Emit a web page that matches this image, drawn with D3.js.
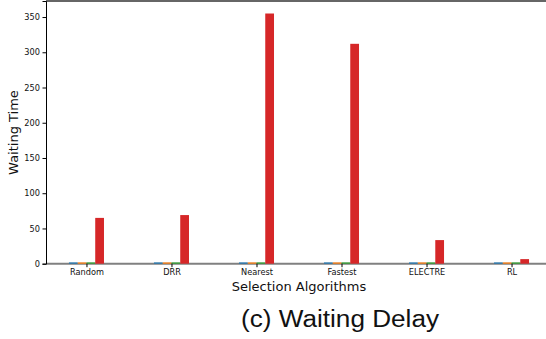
<!DOCTYPE html>
<html>
<head>
<meta charset="utf-8">
<script src="https://cdn.jsdelivr.net/npm/d3@7/dist/d3.min.js"></script>
<style>
  html, body { margin: 0; padding: 0; background: #fff; }
  svg { display: block; }
</style>
</head>
<body>
<svg id="chart" width="546" height="339"></svg>
<script>
// Waiting time per selection algorithm, four series per group
const categories = ["Random", "DRR", "Nearest", "Fastest", "ELECTRE", "RL"];
const seriesNames = ["s1", "s2", "s3", "s4"];
const seriesColors = ["#1f77b4", "#ff7f0e", "#2ca02c", "#d62728"];
const s1 = [1.8, 1.8, 1.8, 1.8, 1.8, 1.8];
const s2 = [1.8, 1.8, 1.8, 1.8, 1.8, 1.8];
const s3 = [1.8, 1.8, 1.8, 1.8, 1.8, 1.8];
const s4 = [65, 69, 355, 312, 33.5, 6.5];
const yTicks = [0, 50, 100, 150, 200, 250, 300, 350];
const seriesValues = [s1, s2, s3, s4];

const svg = d3.select("#chart");
const plot = { left: 46, right: 552, top: 1, bottom: 263.7 };

const x = d3.scaleLinear().domain([-0.476, 5.476]).range([plot.left, plot.right]);
const y = d3.scaleLinear().domain([0, 355 * 1.05]).range([plot.bottom, plot.top]);
const offset = d3.scaleBand().domain(seriesNames).range([-0.206, 0.206]);

const font = "DejaVu Sans, sans-serif";

// bottom and top frame lines
svg.append("line")
  .attr("x1", plot.left).attr("x2", plot.right)
  .attr("y1", plot.bottom).attr("y2", plot.bottom)
  .attr("stroke", "#808080").attr("stroke-width", 2);
svg.append("line")
  .attr("x1", plot.left).attr("x2", plot.right)
  .attr("y1", plot.top).attr("y2", plot.top)
  .attr("stroke", "#666").attr("stroke-width", 2);

// bars
seriesNames.forEach((name, si) => {
  svg.append("g")
    .selectAll("rect")
    .data(seriesValues[si])
    .join("rect")
    .attr("x", (d, i) => x(i + offset(name)))
    .attr("width", (d, i) => x(i + offset(name) + offset.bandwidth()) - x(i + offset(name)))
    .attr("y", d => y(d))
    .attr("height", d => y(0) - y(d))
    .attr("fill", seriesColors[si]);
});

// y axis
const yAxis = svg.append("g")
  .attr("transform", `translate(${plot.left},0)`)
  .call(d3.axisLeft(y).tickValues(yTicks).tickSize(3.5).tickPadding(2.5));
yAxis.select(".domain").attr("stroke", "#000").attr("stroke-width", 1);
yAxis.selectAll("text").attr("font-family", font).attr("font-size", 8.2).attr("fill", "#111");

// x axis
const xAxis = svg.append("g")
  .attr("transform", `translate(0,${plot.bottom})`)
  .call(d3.axisBottom(x).tickValues(d3.range(categories.length))
    .tickFormat(i => categories[i]).tickSize(3.5).tickPadding(2));
xAxis.select(".domain").remove();
xAxis.selectAll("text").attr("font-family", font).attr("font-size", 8.2).attr("fill", "#111");

// axis titles
svg.append("text")
  .attr("x", 299).attr("y", 291)
  .attr("text-anchor", "middle")
  .attr("font-family", font).attr("font-size", 13).attr("fill", "#111")
  .text("Selection Algorithms");
svg.append("text")
  .attr("transform", `translate(18,132.5) rotate(-90)`)
  .attr("text-anchor", "middle")
  .attr("font-family", font).attr("font-size", 13).attr("fill", "#111")
  .text("Waiting Time");

// caption
svg.append("text")
  .attr("x", 241).attr("y", 327)
  .attr("textLength", 198).attr("lengthAdjust", "spacingAndGlyphs")
  .attr("font-family", "Liberation Sans, Arial, sans-serif").attr("font-size", 23.5).attr("fill", "#111")
  .text("(c) Waiting Delay");
</script>
</body>
</html>
